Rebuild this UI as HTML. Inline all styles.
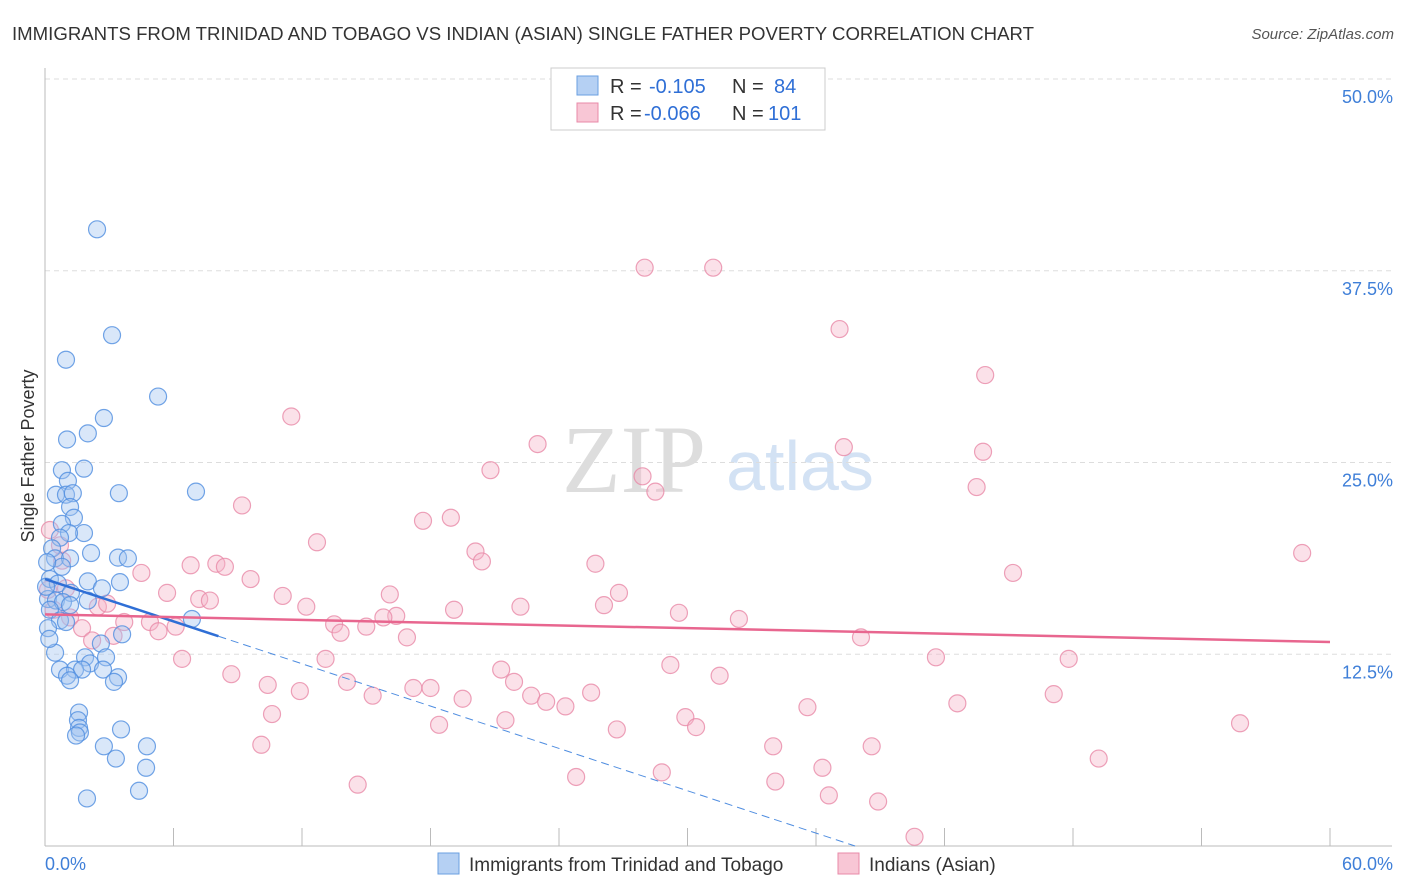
<!DOCTYPE html>
<html><head><meta charset="utf-8">
<style>
body{margin:0;background:#fff;font-family:"Liberation Sans",sans-serif;}
#wrap{position:relative;width:1406px;height:892px;overflow:hidden;}
</style></head>
<body><div id="wrap">
<svg id="chart" width="1406" height="892" xmlns="http://www.w3.org/2000/svg">
<text x="12" y="40" font-size="18" fill="#333" textLength="1022" lengthAdjust="spacingAndGlyphs">IMMIGRANTS FROM TRINIDAD AND TOBAGO VS INDIAN (ASIAN) SINGLE FATHER POVERTY CORRELATION CHART</text>
<text x="1394" y="39" font-size="15" fill="#555" font-style="italic" text-anchor="end">Source: ZipAtlas.com</text>
<text x="634" y="492" font-size="96" fill="#ddd" font-family="Liberation Serif" text-anchor="middle">ZIP</text>
<text x="800" y="490" font-size="70" fill="#d3e2f4" text-anchor="middle">atlas</text>
<g id="grid"></g>
<g id="axes"></g>
<g id="points"></g>
<g id="trends"></g>
<text transform="translate(34,456) rotate(-90)" font-size="18" fill="#333" text-anchor="middle">Single Father Poverty</text>
<g>
<rect x="551" y="68" width="274" height="62" fill="#fff" stroke="#ccc"/>
<rect x="577" y="76" width="21" height="19" fill="#b5d0f3" stroke="#6a9fe0"/>
<rect x="577" y="103" width="21" height="19" fill="#f8c6d5" stroke="#e88aa8"/>
<text x="610" y="93" font-size="20" fill="#333">R =</text>
<text x="649" y="93" font-size="20" fill="#2f6fd6">-0.105</text>
<text x="732" y="93" font-size="20" fill="#333">N =</text>
<text x="774" y="93" font-size="20" fill="#2f6fd6">84</text>
<text x="610" y="120" font-size="20" fill="#333">R =</text>
<text x="644" y="120" font-size="20" fill="#2f6fd6">-0.066</text>
<text x="732" y="120" font-size="20" fill="#333">N =</text>
<text x="768" y="120" font-size="20" fill="#2f6fd6">101</text>
</g>
<g>
<rect x="438" y="853" width="21" height="21" fill="#b5d0f3" stroke="#6a9fe0"/>
<text x="469" y="871" font-size="19" fill="#333">Immigrants from Trinidad and Tobago</text>
<rect x="838" y="853" width="21" height="21" fill="#f8c6d5" stroke="#e88aa8"/>
<text x="869" y="871" font-size="19" fill="#333">Indians (Asian)</text>
</g>
</svg>
<script>
const xTicks=[0,6,12,18,24,30,36,42,48,54,60];
const yTicks=[12.5,25,37.5,50];
const yTickLabels=["12.5%","25.0%","37.5%","50.0%"];
const blueX=[2.43,3.13,0.98,5.28,2.75,2.0,1.03,1.82,0.79,1.07,3.45,7.05,0.51,0.98,1.3,1.17,1.35,0.79,1.82,1.12,0.7,0.33,2.15,3.41,3.87,0.47,1.17,0.79,0.23,2.0,3.5,0.6,2.66,1.21,0.14,0.51,2.0,0.84,1.17,0.23,0.7,0.98,6.86,3.6,0.14,2.61,0.47,1.87,2.85,2.1,0.7,1.4,1.73,2.71,1.03,1.17,3.41,3.22,1.59,1.54,1.59,1.63,1.45,3.55,2.75,4.76,3.31,4.72,4.39,1.96,0.1,0.05,0.2];
const blueY=[40.2,33.3,31.7,29.3,27.9,26.9,26.5,24.6,24.5,23.8,23.0,23.1,22.9,22.9,23.0,22.1,21.4,21.0,20.4,20.4,20.1,19.4,19.1,18.8,18.75,18.75,18.75,18.2,17.4,17.25,17.2,17.1,16.8,16.5,16.1,16.0,16.0,15.9,15.7,15.4,14.7,14.6,14.8,13.8,14.2,13.2,12.6,12.3,12.3,11.9,11.5,11.5,11.5,11.5,11.1,10.8,11.0,10.7,8.7,8.2,7.7,7.4,7.2,7.6,6.5,6.5,5.7,5.1,3.6,3.1,18.5,16.9,13.5];
const pinkX=[28.0,31.2,37.1,43.9,11.5,23.0,37.3,43.8,20.8,27.9,28.5,43.5,9.2,18.95,17.65,12.7,20.1,58.7,20.4,25.7,6.8,8.0,8.4,4.5,9.6,45.2,5.7,26.8,16.1,11.1,7.2,7.7,12.2,22.2,26.1,19.1,16.4,15.8,29.6,32.4,3.7,4.9,6.1,13.5,13.8,15.0,5.3,3.2,16.9,38.1,6.4,13.1,41.6,47.8,29.2,21.3,8.7,31.5,21.9,14.1,10.4,17.2,18.0,11.9,25.5,22.7,15.3,23.4,19.5,24.3,47.1,42.6,35.6,10.6,21.5,29.9,30.4,18.4,26.7,55.8,10.1,34.0,38.6,49.2,36.3,28.8,24.8,34.1,14.6,36.6,38.9,40.6,0.23,0.7,0.14,0.98,1.17,1.73,2.2,2.47,2.9,0.8,0.4];
const pinkY=[37.7,37.7,33.7,30.7,28.0,26.2,26.0,25.7,24.5,24.1,23.1,23.4,22.2,21.4,21.2,19.8,19.2,19.1,18.55,18.4,18.3,18.4,18.2,17.8,17.4,17.8,16.5,16.5,16.4,16.3,16.1,16.0,15.6,15.6,15.7,15.4,15.0,14.9,15.2,14.8,14.6,14.6,14.3,14.45,13.9,14.3,14.0,13.7,13.6,13.6,12.2,12.2,12.3,12.2,11.8,11.5,11.2,11.1,10.7,10.7,10.5,10.3,10.3,10.1,10.0,9.8,9.8,9.4,9.6,9.1,9.9,9.3,9.05,8.6,8.2,8.4,7.75,7.9,7.6,8.0,6.6,6.5,6.5,5.7,5.1,4.8,4.5,4.2,4.0,3.3,2.9,0.6,20.6,19.6,16.7,16.8,14.9,14.2,13.4,15.6,15.8,18.6,15.4];
const blueTrend=[17.4,-0.46];
const pinkTrend=[15.1,-0.03];
const X0=45,X1=1330,Y0=846,Y50=79;
const sx=v=>X0+(X1-X0)*v/60;
const sy=v=>Y0-(Y0-Y50)*v/50;
const NS="http://www.w3.org/2000/svg";
function mk(tag,attrs,parent){const e=document.createElementNS(NS,tag);for(const k in attrs)e.setAttribute(k,attrs[k]);parent.appendChild(e);return e;}
const grid=document.getElementById('grid'),axes=document.getElementById('axes'),pts=document.getElementById('points'),tr=document.getElementById('trends');
yTicks.forEach((t,i)=>{
 const l=mk('line',{x1:X0,x2:1392,y1:sy(t),y2:sy(t),stroke:'#ddd','stroke-dasharray':'5,4'},grid);
 
 
 const tx=mk('text',{x:1393,y:sy(t)+24,'font-size':18,fill:'#3f7fd8','text-anchor':'end'},axes);
 tx.textContent=yTickLabels[i];
 
 
});
const ax=mk('line',{x1:X0,x2:1392,y1:Y0,y2:Y0,stroke:'#bbb'},axes);


const ay=mk('line',{x1:X0,x2:X0,y1:68,y2:Y0,stroke:'#bbb'},axes);


xTicks.forEach(t=>{
 const l=mk('line',{x1:sx(t),x2:sx(t),y1:828,y2:Y0,stroke:'#bbb'},axes);
 
 
});
const xl0=mk('text',{x:45,y:870,'font-size':18,fill:'#3f7fd8'},axes);xl0.textContent='0.0%';


const xl1=mk('text',{x:1393,y:870,'font-size':18,fill:'#3f7fd8','text-anchor':'end'},axes);xl1.textContent='60.0%';


function drawPts(xs,ys,fill,stroke,name){xs.forEach((x,i)=>{
 const c=mk('circle',{cx:sx(x),cy:sy(ys[i]),r:8.5,fill:fill,'fill-opacity':0.4,stroke:stroke,'stroke-width':1.2,'stroke-opacity':0.8},pts);
 
 
});}
drawPts(pinkX,pinkY,'#f5b3c8','#e88aa8','indian-point');
drawPts(blueX,blueY,'#9fc2ef','#4f8de0','trinidad-point');
const bEnd=8.1, bZero=-blueTrend[0]/blueTrend[1];
const bl=mk('line',{x1:sx(0),y1:sy(blueTrend[0]),x2:sx(bEnd),y2:sy(blueTrend[0]+blueTrend[1]*bEnd),stroke:'#2f6fd6','stroke-width':2.5},tr);


const bd=mk('line',{x1:sx(bEnd),y1:sy(blueTrend[0]+blueTrend[1]*bEnd),x2:sx(bZero),y2:sy(0),stroke:'#4f8de0','stroke-width':1,'stroke-dasharray':'8,5'},tr);


const pl=mk('line',{x1:sx(0),y1:sy(pinkTrend[0]),x2:sx(60),y2:sy(pinkTrend[0]+pinkTrend[1]*60),stroke:'#e8668f','stroke-width':2.5},tr);


</script>
</div></body></html>
